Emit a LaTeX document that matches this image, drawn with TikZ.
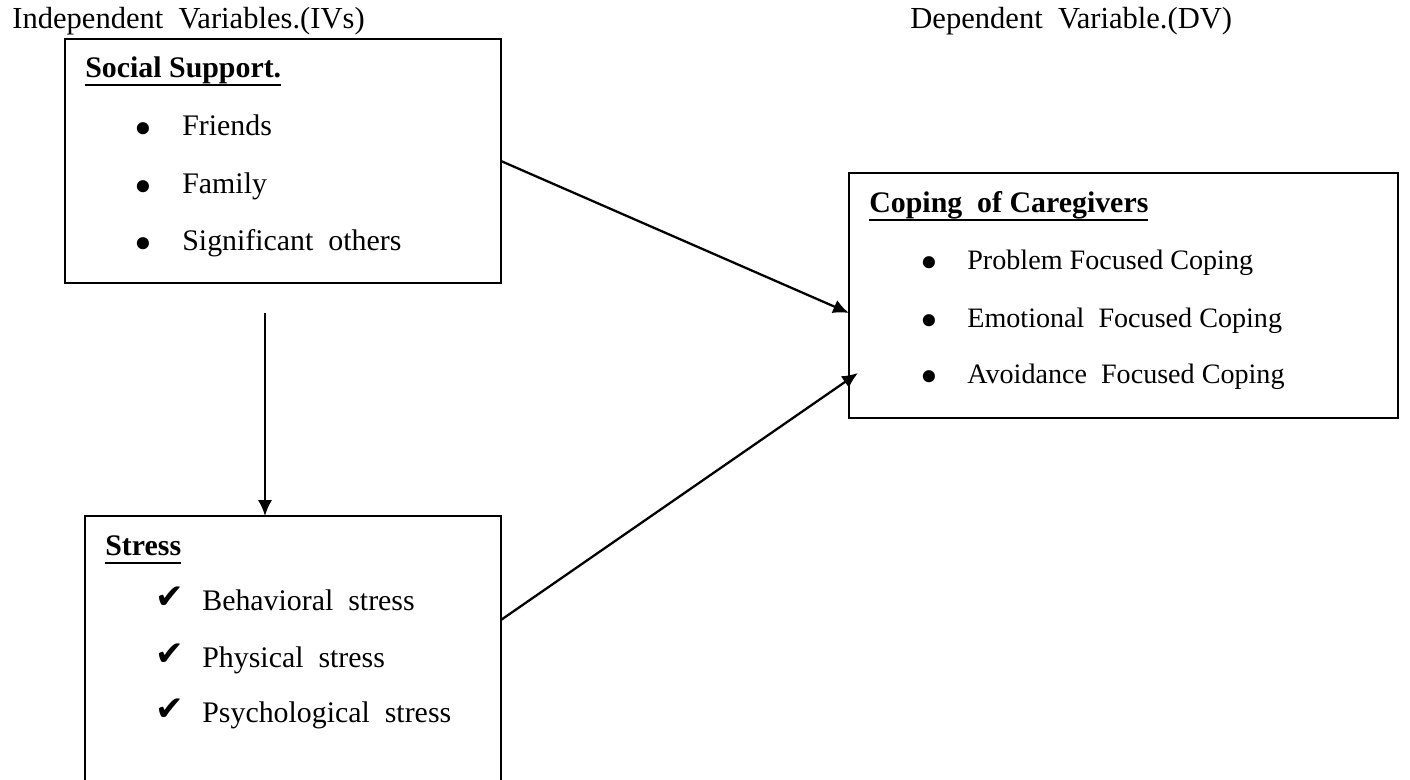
\documentclass[tikz,border=0pt]{standalone}
\usepackage{fontspec}
\setmainfont{Liberation Serif}
\newfontfamily\symfont{DejaVu Sans}
\usepackage{tikz}
\usetikzlibrary{positioning}
\usetikzlibrary{calc,arrows.meta}
\newcommand{\hdline}[1]{\leavevmode\setbox0\hbox{#1}\copy0\kern-\wd0\raisebox{-5pt}{\rule{\wd0}{1.3pt}}}
\tikzstyle{varbox}=[draw,line width=1.3pt,inner sep=0pt,outer sep=0pt,anchor=north west]
\tikzstyle{txt}=[anchor=base west,inner sep=0pt,font=\fontsize{17}{20}\selectfont]
\tikzstyle{link}=[-{Latex[length=9pt,width=8pt]},line width=1.3pt]

\begin{document}
\begin{tikzpicture}[x=0.02cm,y=-0.02cm]

  \useasboundingbox (0,0) rectangle (1410,779);

% boxes
  \node[varbox,minimum width=8.72cm,minimum height=4.88cm] (ssbox) at (65,39) {};
  \node[varbox,minimum width=8.32cm,minimum height=5.6cm] (stbox) at (85,516) {};
  \node[varbox,minimum width=10.98cm,minimum height=4.9cm] (cpbox) at (849,173) {};

% titles
  \node[txt,font=\fontsize{17.4}{20}\selectfont] (ivlabel) at (12,28) {Independent\ \ Variables.(IVs)};
  \node[txt,font=\fontsize{17.4}{20}\selectfont] (dvlabel) at (910,28) {Dependent\ \ Variable.(DV)};

  \node[txt] (sshead) at (85,77) {\hdline{\bfseries Social Support.}};
  \node[txt] (sthead) at (105,555) {\hdline{\bfseries Stress}};
  \node[txt] (cphead) at (869,212) {\hdline{\bfseries Coping\ \ of Caregivers}};

    \foreach \y/\name/\item in {135/friends/Friends, 193/family/Family, 250/sigothers/Significant\ \ others}
    {
        \node[txt,scale=1.7] (\name-dot) at (134,\y+10) {\textbullet};
        \node[txt] (\name) at (182,\y) {\item};
    }

    \foreach \y/\name/\item in {610/behav/Behavioral\ \ stress, 667/phys/Physical\ \ stress, 722/psych/Psychological\ \ stress}
    {
        \node[txt,font=\fontsize{19.5}{22}\selectfont] (\name-tick) at (155,\y-2) {\symfont ✔};
        \node[txt] (\name) at (202,\y) {\item};
    }

    \foreach \y/\name/\item in {269/probfc/Problem Focused Coping, 327/emofc/Emotional\ \ Focused Coping, 383/avofc/Avoidance\ \ Focused Coping}
    {
        \node[txt,scale=1.7] (\name-dot) at (920,\y+10) {\textbullet};
        \node[txt,font=\fontsize{16}{19}\selectfont] (\name) at (967,\y) {\item};
    }

% links
  \coordinate (vtop) at (265,313);
  \draw[link] (ssbox.east) -- ([yshift=-0.35cm]cpbox.west);
  \draw[link] ([yshift=0.72cm]stbox.east) -- ([xshift=0.18cm,yshift=-1.55cm]cpbox.west);
  \draw[link] (vtop) -- (vtop |- stbox.north);

\end{tikzpicture}
\end{document}
